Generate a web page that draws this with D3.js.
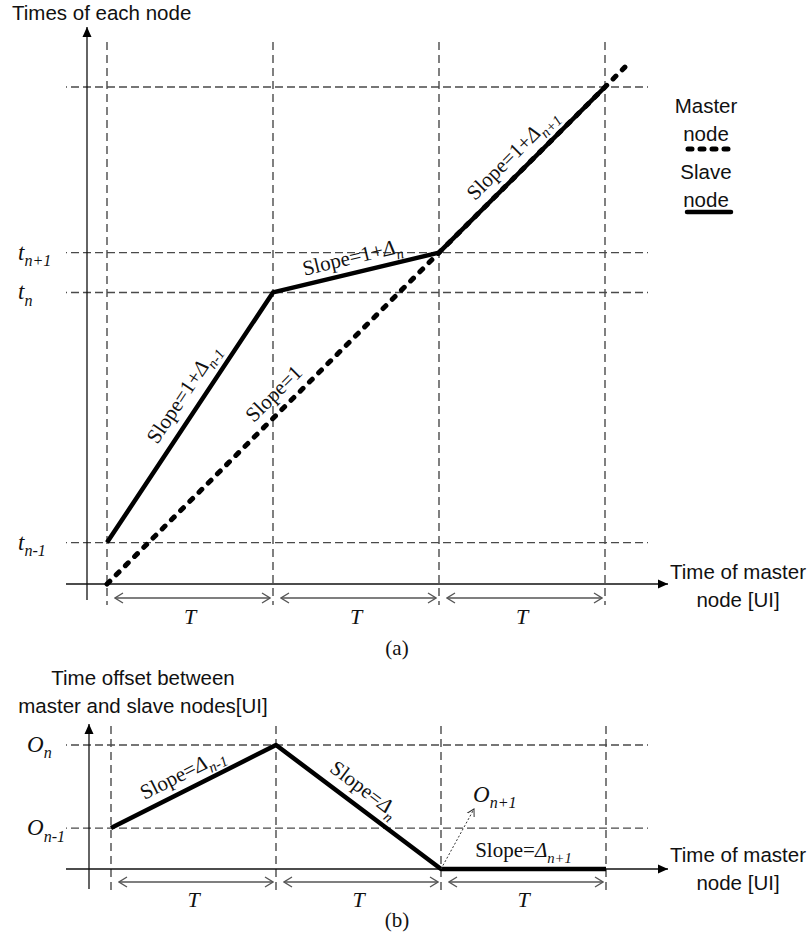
<!DOCTYPE html>
<html>
<head>
<meta charset="utf-8">
<script src="https://cdn.jsdelivr.net/npm/d3@7"></script>
<style>
  body { margin: 0; background: #fff; }
  svg { display: block; }
</style>
</head>
<body>
<div id="chart"></div>
<script>
// ---- data (master time in units of T) ----
const periods = [0, 1, 2, 3];
const masterX = [0, 3.12];
const masterY = [0, 3.12];
const slaveY = [0.25, 1.76, 2, 3];
const timeTicks = [0.25, 1.76, 2, 3];
const timeTickLabels = [["t", "n-1"], ["t", "n"], ["t", "n+1"], null];
const offsets = [0.33, 1, 0, 0];
const offsetTicks = [0.33, 1];
const offsetTickLabels = [["O", "n-1"], ["O", "n"]];
const periodLabel = "T";

const sans = "'Liberation Sans', Arial, sans-serif";
const serif = "'Liberation Serif', 'Times New Roman', serif";
const gridColor = "#4a4a4a";
const gridDash = "1,4," + d3.range(60).map(() => "8,4").join(",");

let svg = d3.select("#chart").append("svg")
    .attr("width", 812)
    .attr("height", 939);

// markers
let defs = svg.append("defs");
defs.append("marker")
    .attr("id", "axisHead")
    .attr("viewBox", "0 -5 10 10")
    .attr("refX", 10).attr("refY", 0)
    .attr("markerWidth", 10).attr("markerHeight", 10)
    .attr("markerUnits", "userSpaceOnUse")
    .attr("orient", "auto")
    .append("path").attr("d", "M0,-4.5L10,0L0,4.5Z").attr("fill", "#000");
defs.append("marker")
    .attr("id", "chev")
    .attr("viewBox", "0 -6 10 12")
    .attr("refX", 9).attr("refY", 0)
    .attr("markerWidth", 10).attr("markerHeight", 12)
    .attr("markerUnits", "userSpaceOnUse")
    .attr("orient", "auto-start-reverse")
    .append("path").attr("d", "M1,-5L9,0L1,5")
    .attr("fill", "none").attr("stroke", "#555").attr("stroke-width", 1.3);
defs.append("marker")
    .attr("id", "smallChev")
    .attr("viewBox", "0 -5 8 10")
    .attr("refX", 7).attr("refY", 0)
    .attr("markerWidth", 8).attr("markerHeight", 10)
    .attr("markerUnits", "userSpaceOnUse")
    .attr("orient", "auto")
    .append("path").attr("d", "M0,-4L7,0L0,4")
    .attr("fill", "none").attr("stroke", "#333").attr("stroke-width", 1);

// rich text helper: parts = [{t, it, sub}]
function rich(g, parts, size) {
    let t = g.append("text")
        .attr("font-family", serif)
        .attr("font-size", size)
        .attr("fill", "#111");
    let shift = 0;
    parts.forEach(p => {
        let ts = t.append("tspan").text(p.t);
        if (p.it) ts.attr("font-style", "italic");
        let want = p.sub ? size * 0.28 : 0;
        if (want !== shift) { ts.attr("dy", want - shift); shift = want; }
        if (p.sub) ts.attr("font-size", size * 0.7);
    });
    return t;
}

// label along a segment: along / perp offsets in px from segment midpoint
function segLabel(g, p0, p1, parts, size, along, perp, anchor) {
    let dx = p1[0] - p0[0], dy = p1[1] - p0[1];
    let len = Math.hypot(dx, dy);
    let ux = dx / len, uy = dy / len;
    let nx = uy, ny = -ux; // upper normal
    let mx = (p0[0] + p1[0]) / 2 + ux * along + nx * perp;
    let my = (p0[1] + p1[1]) / 2 + uy * along + ny * perp;
    let ang = Math.atan2(dy, dx) * 180 / Math.PI;
    rich(g, parts, size)
        .attr("text-anchor", anchor || "middle")
        .attr("transform", `translate(${mx},${my}) rotate(${ang})`);
}

function tArrows(g, x, yArrow, yText) {
    periods.slice(0, -1).forEach((p, i) => {
        let x0 = x(p), x1 = x(periods[i + 1]);
        g.append("line")
            .attr("x1", x0 + 8).attr("x2", x1 - 3)
            .attr("y1", yArrow).attr("y2", yArrow)
            .attr("stroke", "#555").attr("stroke-width", 1.3)
            .attr("marker-start", "url(#chev)")
            .attr("marker-end", "url(#chev)");
        g.append("text")
            .attr("x", (x0 + x1) / 2).attr("y", yText)
            .attr("text-anchor", "middle")
            .attr("font-family", serif).attr("font-style", "italic")
            .attr("font-size", 22).attr("fill", "#111")
            .text(periodLabel);
    });
}

function xTitle(g, y1, y2) {
    g.append("text").attr("x", 738).attr("y", y1)
        .attr("text-anchor", "middle").attr("font-family", sans)
        .attr("font-size", 20.5).attr("fill", "#111").text("Time of master");
    g.append("text").attr("x", 738).attr("y", y2)
        .attr("text-anchor", "middle").attr("font-family", sans)
        .attr("font-size", 20.5).attr("fill", "#111").text("node [UI]");
}

// ================= panel (a) =================
let ga = svg.append("g");
let xA = d3.scaleLinear().domain([0, 3]).range([107, 605]);
let yA = d3.scaleLinear().domain([0, 3]).range([584, 87]);

// grid
ga.selectAll(".vgrid").data(periods).join("line")
    .attr("x1", d => xA(d)).attr("x2", d => xA(d))
    .attr("y1", 42).attr("y2", 605)
    .attr("stroke", gridColor).attr("stroke-width", 1.4)
    .attr("stroke-dasharray", "8,5");
ga.selectAll(".hgrid").data(timeTicks).join("line")
    .attr("x1", 66).attr("x2", 648)
    .attr("y1", d => yA(d)).attr("y2", d => yA(d))
    .attr("stroke", gridColor).attr("stroke-width", 1.4)
    .attr("stroke-dasharray", gridDash);

// axes
ga.append("line").attr("x1", 87).attr("x2", 87).attr("y1", 600).attr("y2", 27)
    .attr("stroke", "#111").attr("stroke-width", 1.3).attr("marker-end", "url(#axisHead)");
ga.append("line").attr("x1", 66).attr("x2", 668).attr("y1", yA(0)).attr("y2", yA(0))
    .attr("stroke", "#111").attr("stroke-width", 1.3).attr("marker-end", "url(#axisHead)");

ga.append("text").attr("x", 12).attr("y", 20)
    .attr("font-family", sans).attr("font-size", 20.5).attr("fill", "#111")
    .text("Times of each node");

// tick labels
timeTicks.forEach((v, i) => {
    let lab = timeTickLabels[i];
    if (!lab) return;
    rich(ga, [{ t: lab[0], it: true }, { t: lab[1], it: true, sub: true }], 23)
        .attr("x", 18).attr("y", yA(v) + 7);
});

// master (dashed) and slave (solid)
let masterData = masterX.map((x, i) => [xA(x), yA(masterY[i])]);
let slaveData = periods.map((p, i) => [xA(p), yA(slaveY[i])]);
let line = d3.line();
ga.append("path").attr("d", line(masterData))
    .attr("fill", "none").attr("stroke", "#000").attr("stroke-width", 5)
    .attr("stroke-linecap", "round").attr("stroke-dasharray", "4,9");
ga.append("path").attr("d", line(slaveData))
    .attr("fill", "none").attr("stroke", "#000").attr("stroke-width", 4.5)
    .attr("stroke-linejoin", "round");

// slope labels
segLabel(ga, slaveData[0], slaveData[1],
    [{ t: "Slope=1+" }, { t: "Δ", it: true }, { t: "n-1", it: true, sub: true }], 21, 16, 12);
segLabel(ga, [xA(0), yA(0)], [xA(2), yA(2)],
    [{ t: "Slope=1" }], 21, 18, 10);
segLabel(ga, slaveData[1], slaveData[2],
    [{ t: "Slope=1+" }, { t: "Δ", it: true }, { t: "n", it: true, sub: true }], 21, 0, 9);
segLabel(ga, slaveData[2], slaveData[3],
    [{ t: "Slope=1+" }, { t: "Δ", it: true }, { t: "n+1", it: true, sub: true }], 21, 4, 11);

tArrows(ga, xA, 598, 624);
xTitle(ga, 579, 607);

ga.append("text").attr("x", 397).attr("y", 655).attr("text-anchor", "middle")
    .attr("font-family", serif).attr("font-size", 21).attr("fill", "#111").text("(a)");

// legend
let lg = svg.append("g").attr("font-family", sans).attr("font-size", 20.5).attr("fill", "#111")
    .attr("text-anchor", "middle");
lg.append("text").attr("x", 706).attr("y", 113).text("Master");
lg.append("text").attr("x", 706).attr("y", 141).text("node");
lg.append("line").attr("x1", 688).attr("x2", 731).attr("y1", 149).attr("y2", 149)
    .attr("stroke", "#000").attr("stroke-width", 5)
    .attr("stroke-linecap", "round").attr("stroke-dasharray", "4,8");
lg.append("text").attr("x", 706).attr("y", 179).text("Slave");
lg.append("text").attr("x", 706).attr("y", 207).text("node");
lg.append("line").attr("x1", 687).attr("x2", 731).attr("y1", 212).attr("y2", 212)
    .attr("stroke", "#000").attr("stroke-width", 4.5).attr("stroke-linecap", "round");

// ================= panel (b) =================
let gb = svg.append("g");
let xB = d3.scaleLinear().domain([0, 3]).range([111, 606]);
let yB = d3.scaleLinear().domain([0, 1]).range([869, 745]);

gb.append("text").attr("x", 143).attr("y", 685).attr("text-anchor", "middle")
    .attr("font-family", sans).attr("font-size", 20.5).attr("fill", "#111")
    .text("Time offset between");
gb.append("text").attr("x", 143).attr("y", 713).attr("text-anchor", "middle")
    .attr("font-family", sans).attr("font-size", 20.5).attr("fill", "#111")
    .text("master and slave nodes[UI]");

gb.selectAll(".vgrid").data(periods).join("line")
    .attr("x1", d => xB(d)).attr("x2", d => xB(d))
    .attr("y1", 726).attr("y2", 890)
    .attr("stroke", gridColor).attr("stroke-width", 1.4)
    .attr("stroke-dasharray", "8,5");
gb.selectAll(".hgrid").data(offsetTicks).join("line")
    .attr("x1", 66).attr("x2", 648)
    .attr("y1", d => yB(d)).attr("y2", d => yB(d))
    .attr("stroke", gridColor).attr("stroke-width", 1.4)
    .attr("stroke-dasharray", gridDash);

gb.append("line").attr("x1", 89).attr("x2", 89).attr("y1", 889).attr("y2", 724)
    .attr("stroke", "#111").attr("stroke-width", 1.3).attr("marker-end", "url(#axisHead)");
gb.append("line").attr("x1", 66).attr("x2", 668).attr("y1", yB(0)).attr("y2", yB(0))
    .attr("stroke", "#111").attr("stroke-width", 1.3).attr("marker-end", "url(#axisHead)");

offsetTicks.forEach((v, i) => {
    let lab = offsetTickLabels[i];
    rich(gb, [{ t: lab[0], it: true }, { t: lab[1], it: true, sub: true }], 23)
        .attr("x", 27).attr("y", yB(v) + 7);
});

let offsetData = periods.map((p, i) => [xB(p), yB(offsets[i])]);
gb.append("path").attr("d", line(offsetData))
    .attr("fill", "none").attr("stroke", "#000").attr("stroke-width", 4.5)
    .attr("stroke-linejoin", "round");

segLabel(gb, offsetData[0], offsetData[1],
    [{ t: "Slope=" }, { t: "Δ", it: true }, { t: "n-1", it: true, sub: true }], 21, -4, 10);
segLabel(gb, offsetData[1], offsetData[2],
    [{ t: "Slope=" }, { t: "Δ", it: true }, { t: "n", it: true, sub: true }], 21, -6, 11);
segLabel(gb, offsetData[2], offsetData[3],
    [{ t: "Slope=" }, { t: "Δ", it: true }, { t: "n+1", it: true, sub: true }], 21, 0, 12);

// O_{n+1} pointer
gb.append("line")
    .attr("x1", offsetData[2][0]).attr("y1", offsetData[2][1])
    .attr("x2", offsetData[2][0] + 33).attr("y2", offsetData[2][1] - 60)
    .attr("stroke", "#333").attr("stroke-width", 1)
    .attr("stroke-dasharray", "2,2")
    .attr("marker-end", "url(#smallChev)");
rich(gb, [{ t: "O", it: true }, { t: "n+1", it: true, sub: true }], 23)
    .attr("x", offsetData[2][0] + 32).attr("y", 802);

tArrows(gb, xB, 882, 907);
xTitle(gb, 862, 890);

gb.append("text").attr("x", 397).attr("y", 927).attr("text-anchor", "middle")
    .attr("font-family", serif).attr("font-size", 21).attr("fill", "#111").text("(b)");
</script>
</body>
</html>
